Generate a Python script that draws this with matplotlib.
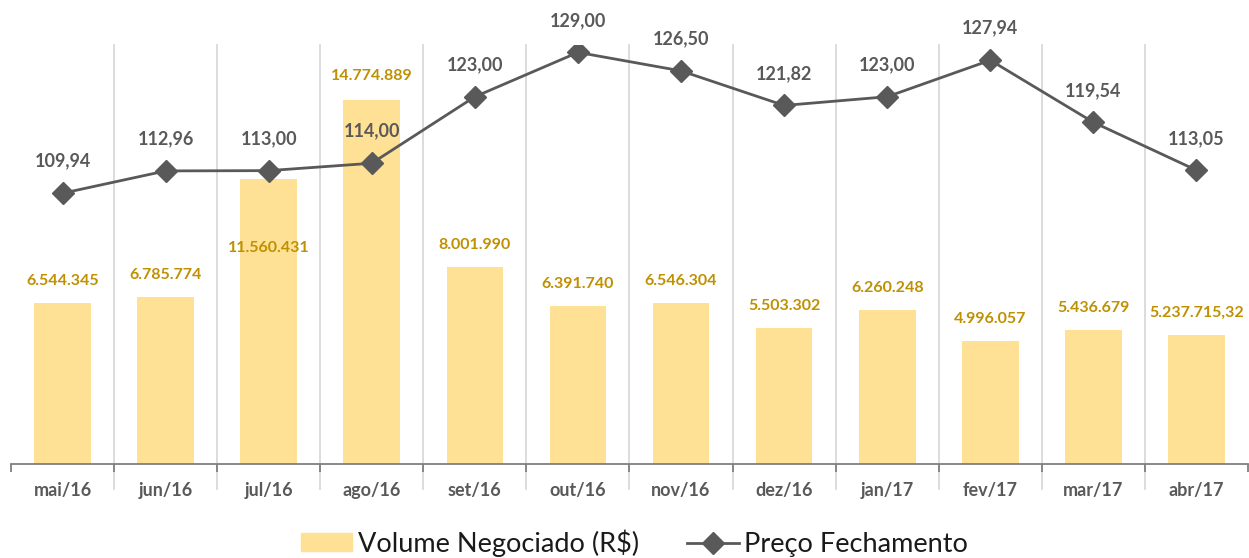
import matplotlib.pyplot as plt
from matplotlib.lines import Line2D
from matplotlib.patches import Patch

plt.rcParams['font.family'] = ['Lato', 'DejaVu Sans']

# Dados
meses = ['mai/16', 'jun/16', 'jul/16', 'ago/16', 'set/16', 'out/16',
         'nov/16', 'dez/16', 'jan/17', 'fev/17', 'mar/17', 'abr/17']
volume = [6544345, 6785774, 11560431, 14774889, 8001990, 6391740,
          6546304, 5503302, 6260248, 4996057, 5436679, 5237715.32]
volume_txt = ['6.544.345', '6.785.774', '11.560.431', '14.774.889', '8.001.990',
              '6.391.740', '6.546.304', '5.503.302', '6.260.248', '4.996.057',
              '5.436.679', '5.237.715,32']
preco = [109.94, 112.96, 113.00, 114.00, 123.00, 129.00,
         126.50, 121.82, 123.00, 127.94, 119.54, 113.05]

cor_barra = '#FFE195'
cor_txt_barra = '#BF9000'
cor_linha = '#595959'

fig = plt.figure(figsize=(12.49, 5.58), dpi=100)
ax = fig.add_axes([11 / 1249, 1 - 464 / 558, 1237 / 1249, 419 / 558])
ax2 = ax.twinx()

x = list(range(len(meses)))
ax.bar(x, volume, width=0.55, color=cor_barra, zorder=2)
ax.set_xlim(-0.5, len(meses) - 0.5)
ax.set_ylim(0, 17.0e6)

# linhas verticais entre categorias
for b in range(1, len(meses)):
    ax.axvline(b - 0.5, ymin=-0.06, ymax=1, color='#D9D9D9', lw=1.3,
               clip_on=False, zorder=1)

for s in ['top', 'left', 'right']:
    ax.spines[s].set_visible(False)
    ax2.spines[s].set_visible(False)
ax2.spines['bottom'].set_visible(False)
ax.spines['bottom'].set_color('#7F7F7F')
ax.spines['bottom'].set_linewidth(1.3)
ax.set_yticks([])
ax2.set_yticks([])

ax.set_xticks(x)
ax.set_xticklabels(meses, fontsize=13, fontweight='bold', color=cor_linha)
ax.tick_params(axis='x', which='major', length=0, pad=13)
ax.set_xticks([i - 0.5 for i in range(len(meses) + 1)], minor=True)
ax.tick_params(axis='x', which='minor', length=6, width=1.3, color='#7F7F7F')

# rótulos das barras
desloc_barra = [22, 22, -69, 24, 22, 22, 22, 22, 22, 22, 22, 22]
for i, (v, t) in enumerate(zip(volume, volume_txt)):
    ax.annotate(t, (i, v), xytext=(0, desloc_barra[i]), textcoords='offset pixels',
                ha='center', va='center', fontsize=11.5, fontweight='bold',
                color=cor_txt_barra, zorder=5)

# linha de preço
ax2.plot(x, preco, color=cor_linha, lw=2, marker='D', markersize=11, zorder=4)
ax2.set_ylim(73.3, 130)
for i, p in enumerate(preco):
    ax2.annotate(f'{p:.2f}'.replace('.', ','), (i, p), xytext=(0, 32),
                 textcoords='offset pixels', ha='center', va='center',
                 fontsize=13, fontweight='bold', color=cor_linha)

handles = [Patch(color=cor_barra, label='Volume Negociado (R$)'),
           Line2D([], [], color=cor_linha, lw=2, marker='D', markersize=11,
                  label='Preço Fechamento')]
fig.legend(handles=handles, loc='center', bbox_to_anchor=(0.508, 1 - 543 / 558),
           ncol=2, frameon=False, fontsize=19.5, handlelength=1.9,
           handleheight=0.63, columnspacing=1.8, handletextpad=0.2,
           labelcolor='#1a1a1a')

fig.savefig('out.png', dpi=100)
